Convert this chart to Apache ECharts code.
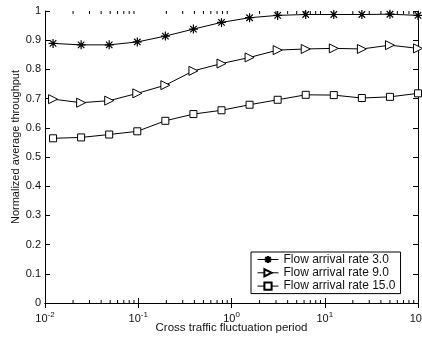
<!DOCTYPE html>
<html>
<head>
<meta charset="utf-8">
<script src="https://cdn.jsdelivr.net/npm/echarts@6/dist/echarts.min.js"></script>
<style>
  html, body { margin: 0; padding: 0; background: #fff; }
  #chart { width: 422px; height: 339px; }
</style>
</head>
<body>
<div id="chart"></div>
<script>
// cross traffic fluctuation period (x, log scale)
const periods = [0.0122, 0.0244, 0.0488, 0.0977, 0.1953, 0.3906, 0.7813, 1.5625, 3.125, 6.25, 12.5, 25, 50, 100]
// normalized average throughput per flow arrival rate
const rate3 = [0.889, 0.884, 0.884, 0.894, 0.914, 0.938, 0.961, 0.977, 0.985, 0.988, 0.988, 0.988, 0.989, 0.985]
const rate9 = [0.698, 0.686, 0.693, 0.718, 0.746, 0.795, 0.820, 0.841, 0.866, 0.870, 0.872, 0.870, 0.883, 0.872]
const rate15 = [0.564, 0.567, 0.577, 0.588, 0.624, 0.647, 0.660, 0.679, 0.696, 0.713, 0.712, 0.702, 0.706, 0.718]
const seriesNames = ['Flow arrival rate 3.0', 'Flow arrival rate 9.0', 'Flow arrival rate 15.0']
// minor log ticks (2..9 per decade)
const minorTicks = []
;[0.01, 0.1, 1, 10].forEach(d => { for (let k = 2; k <= 9; k++) minorTicks.push(d * k) })

const FONT = 'Liberation Sans, Arial, sans-serif'
const TXT = '#111'

const star = 'path://M0,-1L0,1M-1,0L1,0M-0.72,-0.72L0.72,0.72M-0.72,0.72L0.72,-0.72'
const triRight = 'path://M0,0L10,5L0,10Z'

const pairs = ys => periods.map((x, i) => [x, ys[i]])

const chart = echarts.init(document.getElementById('chart'))

const xLabel = {
  fontFamily: FONT, fontSize: 11, color: TXT, margin: 8,
  formatter: v => '{b|10}{s|' + Math.round(Math.log10(v)) + '}',
  rich: {
    b: { fontFamily: FONT, fontSize: 11, color: TXT },
    s: { fontFamily: FONT, fontSize: 8, color: TXT, verticalAlign: 'bottom', padding: [0, 0, 7, 0] }
  }
}

const mkLine = (name, ys, symbol, size, extra) => ({
  name,
  type: 'line',
  data: pairs(ys),
  symbol,
  symbolSize: size,
  symbolKeepAspect: true,
  showAllSymbol: true,
  clip: false,
  lineStyle: { color: '#000', width: 1 },
  itemStyle: Object.assign({ color: '#fff', borderColor: '#000', borderWidth: 1 }, extra || {}),
  emphasis: { disabled: true },
  z: 3
})

const option = {
  animation: false,
  backgroundColor: '#fff',
  grid: { left: 45, right: 4, top: 11, bottom: 36, outerBoundsMode: 'none', containLabel: false },
  xAxis: [
    {
      type: 'log', logBase: 10, min: 0.01, max: 100, position: 'bottom',
      name: 'Cross traffic fluctuation period', nameLocation: 'middle', nameGap: 19,
      nameMoveOverlap: false,
      nameTextStyle: { fontFamily: FONT, fontSize: 11.5, color: TXT },
      axisLine: { lineStyle: { color: '#000', width: 1 } },
      axisTick: { inside: true, length: 5, lineStyle: { color: '#000' } },
      axisLabel: xLabel,
      splitLine: { show: false }
    },
    {
      type: 'log', logBase: 10, min: 0.01, max: 100, position: 'top',
      axisLine: { lineStyle: { color: '#000', width: 1 } },
      axisTick: { inside: true, length: 5, lineStyle: { color: '#000' } },
      axisLabel: { show: false },
      splitLine: { show: false }
    }
  ],
  yAxis: [
    {
      type: 'value', min: 0, max: 1, interval: 0.1, position: 'left',
      name: 'Normalized average throughput', nameLocation: 'middle', nameGap: 24,
      nameMoveOverlap: false,
      nameTextStyle: { fontFamily: FONT, fontSize: 11, color: TXT, padding: [0, 0, 0, 20] },
      axisLine: { show: true, lineStyle: { color: '#000', width: 1 } },
      axisTick: { show: true, inside: true, length: 5, lineStyle: { color: '#000' } },
      axisLabel: { fontFamily: FONT, fontSize: 11, color: TXT, margin: 4,
        formatter: v => String(Math.round(v * 10) / 10) },
      splitLine: { show: false }
    },
    {
      type: 'value', min: 0, max: 1, interval: 0.1, position: 'right',
      axisLine: { show: true, lineStyle: { color: '#000', width: 1 } },
      axisTick: { show: true, inside: true, length: 5, lineStyle: { color: '#000' } },
      axisLabel: { show: false },
      splitLine: { show: false }
    }
  ],
  legend: {
    data: seriesNames,
    orient: 'vertical',
    left: 251, top: 252,
    padding: [1, 5, 1, 6],
    itemGap: 0.3,
    itemWidth: 21,
    itemHeight: 9,
    backgroundColor: '#fff',
    borderColor: '#000',
    borderWidth: 1,
    borderRadius: 0,
    lineStyle: { width: 1, color: '#000' },
    textStyle: { fontFamily: FONT, fontSize: 12, color: TXT, lineHeight: 13 },
    selectedMode: false
  },
  series: [
    mkLine(seriesNames[0], rate3, star, 9, { color: '#000', borderWidth: 1.2 }),
    mkLine(seriesNames[1], rate9, triRight, 9),
    mkLine(seriesNames[2], rate15, 'rect', 7),
    {
      type: 'custom',
      data: minorTicks.map(v => [v, 0]),
      silent: true,
      z: 2,
      renderItem: (params, api) => {
        const b = api.coord([api.value(0), 0])
        const t = api.coord([api.value(0), 1])
        const st = { stroke: '#000', lineWidth: 1 }
        return {
          type: 'group',
          children: [
            { type: 'line', shape: { x1: b[0], y1: b[1], x2: b[0], y2: b[1] - 3 }, style: st },
            { type: 'line', shape: { x1: t[0], y1: t[1], x2: t[0], y2: t[1] + 3 }, style: st }
          ]
        }
      }
    }
  ]
}

chart.setOption(option)
</script>
</body>
</html>
